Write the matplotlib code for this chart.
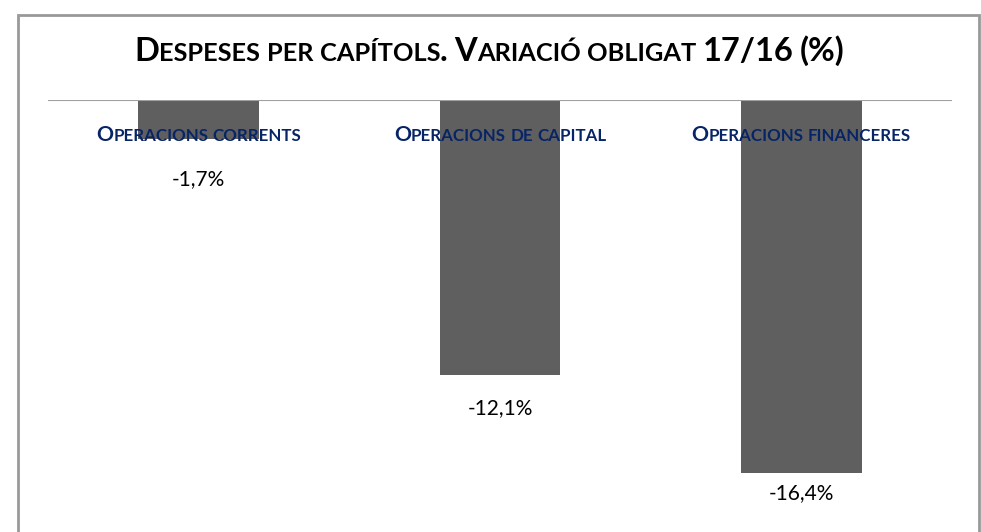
import matplotlib
matplotlib.use("Agg")
from matplotlib import pyplot as plt
from matplotlib.patches import Rectangle
from matplotlib.transforms import IdentityTransform

title = "Despeses per capítols. Variació obligat 17/16 (%)"
categories = ["Operacions corrents", "Operacions de capital", "Operacions financeres"]
values = [-1.7, -12.1, -16.4]
value_labels = ["-1,7%", "-12,1%", "-16,4%"]
label_gap = [46, 39, 26]  # px from bar end to label baseline

FONT = "Lato"
NAVY = "#062466"

fig = plt.figure(figsize=(9.81, 5.32), dpi=100)
W, H = 981, 532
ax = fig.add_axes([48 / W, 0, 904 / W, (H - 100) / H])
ax.bar(range(3), values, width=0.4, color="#5f5f5f")
ax.set_xlim(-0.5, 2.5)
ax.set_ylim(-19, 0)
ax.axis("off")
ax.axhline(0, color="#a0a0a0", lw=1.5, zorder=3)

fig.patches.append(Rectangle((18 / W, -0.1), 961 / W, (H - 15) / H + 0.1,
                             transform=fig.transFigure, fill=False,
                             edgecolor="#999999", lw=2))

renderer = fig.canvas.get_renderer()


def smallcaps(xc, yb, text, big, small, color, weight="bold"):
    # fake small caps: lowercase -> uppercase at smaller size
    runs = []
    for ch in text:
        if ch == " ":
            runs.append((" ", None))
            continue
        sz = small if ch.islower() else big
        ch = ch.upper()
        if runs and runs[-1][1] == sz:
            runs[-1] = (runs[-1][0] + ch, sz)
        else:
            runs.append((ch, sz))
    items = []
    for s, sz in runs:
        if sz is None:
            items.append((None, small * 100 / 72 * 0.25))
            continue
        t = fig.text(0, 0, s, fontsize=sz, family=FONT, weight=weight,
                     color=color, va="baseline", ha="left",
                     transform=IdentityTransform())
        w = t.get_window_extent(renderer).width
        items.append((t, w))
    total = sum(w for _, w in items)
    x = xc - total / 2
    for t, w in items:
        if t is not None:
            t.set_position((x, yb))
        x += w
    return total


# title (pixel coords, origin bottom-left)
smallcaps(W / 2 - 1, H - 61, title, 23.5, 18.3, "black")

for i, cat in enumerate(categories):
    px, _ = ax.transData.transform((i, 0))
    smallcaps(px, H - 141, cat, 15.3, 12.2, NAVY)

for i, (v, lab) in enumerate(zip(values, value_labels)):
    px, py = ax.transData.transform((i, v))
    fig.text(px, py - label_gap[i], lab, fontsize=15, family=FONT,
             ha="center", va="baseline", transform=IdentityTransform())

fig.savefig("out.png", dpi=100)
